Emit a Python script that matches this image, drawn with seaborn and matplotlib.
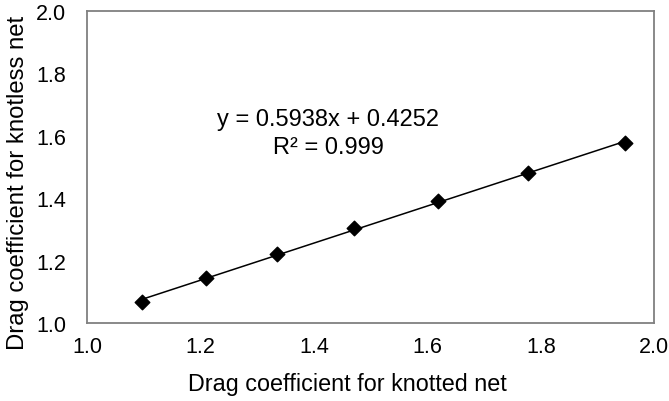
import numpy as np
import pandas as pd
import matplotlib
matplotlib.use('Agg')
import matplotlib.pyplot as plt
import seaborn as sns

knotted = [1.097, 1.210, 1.335, 1.470, 1.618, 1.778, 1.949]
knotless = [1.068, 1.143, 1.221, 1.304, 1.391, 1.481, 1.576]
eq_text = "y = 0.5938x + 0.4252"
r2_text = "R² = 0.999"

sns.set_style('white')
plt.rcParams['font.family'] = ['Liberation Sans', 'DejaVu Sans']
plt.rcParams['text.color'] = 'black'
plt.rcParams['axes.labelcolor'] = 'black'
plt.rcParams['xtick.color'] = 'black'
plt.rcParams['ytick.color'] = 'black'

df = pd.DataFrame({'knotted': knotted, 'knotless': knotless})

fig = plt.figure(figsize=(6.69, 4.02), dpi=100)
ax = fig.add_axes([0.130, 0.194, 0.848, 0.776])

sns.regplot(data=df, x='knotted', y='knotless', ax=ax, ci=None, marker='D',
            color='black', scatter_kws={'s': 55, 'zorder': 3, 'edgecolors': 'black', 'alpha': 1},
            line_kws={'linewidth': 1.1})

ax.set_xlim(1.0, 2.0)
ax.set_ylim(1.0, 2.0)
ax.set_xticks(np.arange(1.0, 2.01, 0.2))
ax.set_yticks(np.arange(1.0, 2.01, 0.2))
ax.xaxis.set_major_formatter(matplotlib.ticker.FormatStrFormatter('%.1f'))
ax.yaxis.set_major_formatter(matplotlib.ticker.FormatStrFormatter('%.1f'))
ax.tick_params(axis='x', length=0, pad=9, labelsize=15.5)
ax.tick_params(axis='y', length=0, pad=15, labelsize=15.5)

for s in ax.spines.values():
    s.set_color('#808080')
    s.set_linewidth(1.3)

ax.set_xlabel('Drag coefficient for knotted net', fontsize=16.8)
ax.set_ylabel('Drag coefficient for knotless net', fontsize=17.2)
ax.xaxis.set_label_coords(0.459, -0.158)
ax.yaxis.set_label_coords(-0.103, 0.452)

ax.text(1.425, 1.655, eq_text, ha='center', va='center', fontsize=17)
ax.text(1.425, 1.565, r2_text, ha='center', va='center', fontsize=17)

fig.savefig('out.png', dpi=100)
